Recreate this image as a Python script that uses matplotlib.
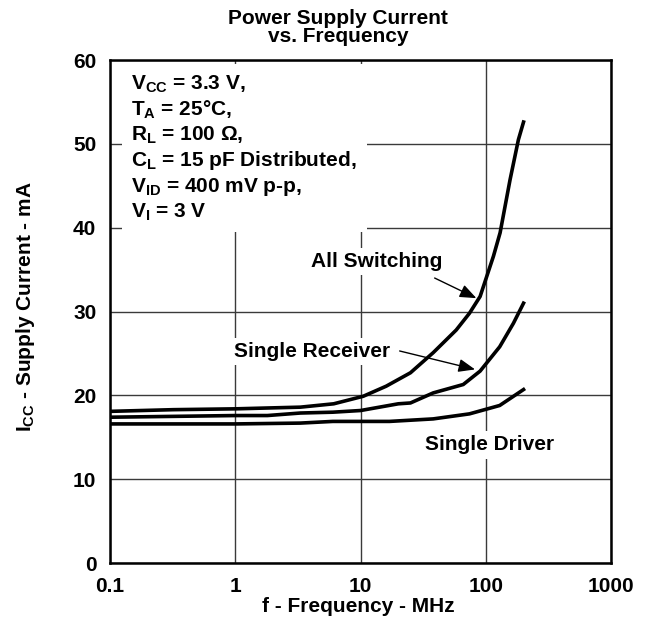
import matplotlib
matplotlib.use("Agg")
import matplotlib.pyplot as plt

# --- data ---
freq_all = [0.1, 0.32, 1, 1.8, 3.3, 6.1, 10.5, 16, 25, 38, 58, 74, 90, 115, 130, 156, 182, 200]
icc_all = [18.1, 18.3, 18.4, 18.5, 18.6, 19.0, 19.9, 21.1, 22.7, 25.1, 27.8, 29.8, 31.8, 36.6, 39.4, 45.7, 50.5, 52.6]

freq_rx = [0.1, 1, 1.8, 3.3, 6, 10, 20, 25, 38, 66, 90, 129, 166, 200]
icc_rx = [17.4, 17.6, 17.6, 17.9, 18.0, 18.2, 19.0, 19.1, 20.3, 21.3, 22.9, 25.8, 28.6, 31.0]

freq_drv = [0.1, 1, 3.3, 6, 10, 17, 38, 74, 129, 200]
icc_drv = [16.6, 16.6, 16.7, 16.9, 16.9, 16.9, 17.2, 17.8, 18.8, 20.7]

x_ticks = [0.1, 1, 10, 100, 1000]
x_tick_labels = ["0.1", "1", "10", "100", "1000"]
y_ticks = [0, 10, 20, 30, 40, 50, 60]

conditions = "\n".join([
    r"V$_{\mathregular{CC}}$ = 3.3 V,",
    r"T$_{\mathregular{A}}$ = 25°C,",
    r"R$_{\mathregular{L}}$ = 100 Ω,",
    r"C$_{\mathregular{L}}$ = 15 pF Distributed,",
    r"V$_{\mathregular{ID}}$ = 400 mV p-p,",
    r"V$_{\mathregular{I}}$ = 3 V",
])

# --- style ---
FS = 15
plt.rcParams["font.family"] = ["Liberation Sans", "DejaVu Sans"]
plt.rcParams["font.weight"] = "bold"
plt.rcParams["mathtext.fontset"] = "custom"
plt.rcParams["mathtext.rm"] = "Liberation Sans:bold"
plt.rcParams["mathtext.it"] = "Liberation Sans:bold"
plt.rcParams["mathtext.bf"] = "Liberation Sans:bold"

fig = plt.figure(figsize=(6.48, 6.25), dpi=100)
ax = fig.add_axes([0.170, 0.099, 0.773, 0.805])

ax.set_xscale("log")
ax.set_xlim(0.1, 1000)
ax.set_ylim(0, 60)
ax.set_xticks(x_ticks)
ax.set_xticklabels(x_tick_labels)
ax.set_yticks(y_ticks)
ax.minorticks_off()
ax.tick_params(length=0, labelsize=FS, pad=10)
for lab in ax.get_xticklabels() + ax.get_yticklabels():
    lab.set_fontweight("bold")
for s in ax.spines.values():
    s.set_linewidth(1.8)

ax.grid(True, color="#3a3a3a", linewidth=1.0)
ax.set_axisbelow(True)

lc = "black"
ax.plot(freq_all, icc_all, color=lc, lw=2.6, solid_joinstyle="round", zorder=3)
ax.plot(freq_rx, icc_rx, color=lc, lw=2.6, solid_joinstyle="round", zorder=3)
ax.plot(freq_drv, icc_drv, color=lc, lw=2.6, solid_joinstyle="round", zorder=3)

box = dict(facecolor="white", edgecolor="none", pad=3)

ax.text(0.148, 58.4, conditions, fontsize=FS, fontweight="bold", va="top", ha="left",
        linespacing=1.22, bbox=dict(facecolor="white", edgecolor="none", pad=7), zorder=2)

arrow = dict(arrowstyle="-|>,head_length=1.0,head_width=0.4", color="black", lw=1,
             shrinkA=0, shrinkB=0)
ax.text(13.5, 36.0, "All Switching", fontsize=FS, fontweight="bold", ha="center",
        va="center", bbox=box, zorder=2)
ax.annotate("", xy=(84, 31.6), xytext=(39, 34.0), arrowprops=arrow, zorder=4)
ax.text(4.1, 25.2, "Single Receiver", fontsize=FS, fontweight="bold", ha="center",
        va="center", bbox=box, zorder=2)
ax.annotate("", xy=(82, 23.1), xytext=(20.5, 25.3), arrowprops=arrow, zorder=4)
ax.text(108, 14.1, "Single Driver", fontsize=FS, fontweight="bold", ha="center",
        va="center", bbox=box, zorder=2)

ax.set_xlabel("f - Frequency - MHz", fontsize=FS, fontweight="bold")
ax.xaxis.set_label_coords(0.495, -0.068)
ax.set_ylabel(r"I$_{\mathregular{CC}}$ - Supply Current - mA", fontsize=FS,
              fontweight="bold")
ax.yaxis.set_label_coords(-0.146, 0.51)
fig.text(0.522, 0.986, "Power Supply Current\nvs. Frequency", fontsize=FS,
         fontweight="bold", ha="center", va="top", linespacing=0.95)

fig.savefig("out.png", dpi=100)
